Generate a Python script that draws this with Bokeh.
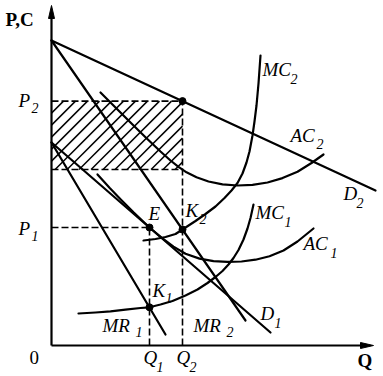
from bokeh.plotting import figure
from bokeh.models import Range1d
from bokeh.core.properties import value
from bokeh.embed import file_html
from bokeh.resources import INLINE

# ---------------- data (economic diagram, arbitrary units) ----------------
Q1 = 98.0
Q2 = 131.0
P1 = 118.0
P2 = 244.4
AC2_AT_Q2 = 176.0
K1_Y = 38.2
K2_Y = 116.0

# linear demand / marginal revenue curves (endpoints)
D2_x = [0, 324]
D2_y = [305, 155]
MR2_x = [0, 194]
MR2_y = [305, 25]
D1_x = [0, 219]
D1_y = [203, 13]
MR1_x = [0, 114]
MR1_y = [203, 11]

# cost curves
AC2_x = [49, 64, 79, 94, 109, 119, 127, 135, 145, 157, 171, 186, 201, 216, 231, 246, 260, 272]
AC2_y = [253, 238, 223, 208.2, 194, 185, 178.6, 173.2, 168.2, 164.0, 161.2, 160.0, 160.6, 163.0, 167.4, 173.8, 182.5, 191]

MC2_x = [92, 104, 114, 124, 131, 144, 154, 164, 173, 180, 186, 191, 195, 198, 201, 203, 205, 207, 209]
MC2_y = [105, 106.5, 108.5, 111.5, 116, 124.5, 131.5, 139, 147.5, 155, 162.5, 172, 183, 194, 210, 224, 240, 262, 290]

AC1_x = [46, 58, 70, 82, 98, 110, 122, 134, 148, 162, 176, 190, 204, 218, 232, 246, 262]
AC1_y = [171.1, 157.7, 145.3, 133.2, 118.0, 107.8, 98.9, 91.8, 86.9, 84.3, 83.6, 84.0, 85.8, 89.2, 95, 104, 117]

MC1_x = [27, 44, 59, 74, 89, 98, 109, 121, 134, 146, 156, 164, 171, 177, 182, 187, 192, 196, 199, 202]
MC1_y = [32, 33, 34.2, 35.8, 37.5, 38.2, 41, 44.5, 50, 56, 62.5, 68.5, 74.5, 81, 87.5, 95.5, 106, 117, 127.5, 141]

X_AXIS_END = 322
Y_AXIS_END = 340

# label texts
LBL_MAIN = ["P", "P", "Q", "Q", "MC", "AC", "D", "MC", "AC", "D", "MR", "MR", "E", "K", "K"]
LBL_SUB = ["2", "1", "1", "2", "2", "2", "2", "1", "1", "1", "2", "1", "", "2", "1"]
PLAIN_TEXT = ["P,C", "0", "Q"]

# ---------------- layout of labels (positions) ----------------
MAIN_POS = [(-33, 245), (-33, 117), (92, -12), (125, -12), (211, 276), (239, 210),
            (292, 152), (204, 133), (252, 102), (209, 32), (142, 20), (51, 20),
            (97, 132), (134, 135), (101, 55)]
SUB_POS = [(-20, 238), (-20, 110), (105, -21), (138, -21), (239, 267), (265, 202),
           (305, 143), (233, 124), (279, 93), (223, 23), (175, 14), (84, 14),
           (0, 0), (148, 127), (114, 48)]
PLAIN_POS = [(-46, 326), (-22, -12), (306, -15)]
PLAIN_STYLE = ["bold", "normal", "bold"]

p = figure(width=383, height=376, x_range=Range1d(-51, 332), y_range=Range1d(-31, 345),
           output_backend="svg", toolbar_location=None, min_border=0)
p.axis.visible = False
p.grid.visible = False
p.outline_line_color = None
p.background_fill_color = "white"
p.border_fill_color = "white"

BLK = "black"
LW = 2.2

# hatched profit area: 45-degree strokes clipped to the rectangle (style only)
HATCH_STEP = 12.0
left, right, bot, top = 0.0, Q2, AC2_AT_Q2, P2
H = top - bot
W = right - left
x0s, y0s, x1s, y1s = [], [], [], []
k = 1
while k * HATCH_STEP < W + H:
    c = k * HATCH_STEP
    t0 = max(0.0, H - c)
    t1 = min(H, W - c + H)
    if t1 > t0:
        x0s.append(left + c - H + t0); y0s.append(bot + t0)
        x1s.append(left + c - H + t1); y1s.append(bot + t1)
    k += 1
p.segment(x0=x0s, y0=y0s, x1=x1s, y1=y1s, line_width=1.5, color=BLK)

# dashed guide lines
DASH = "7 3"
p.line([0, Q2], [P2, P2], line_dash=DASH, line_width=1.6, color=BLK)
p.line([0, Q2], [AC2_AT_Q2, AC2_AT_Q2], line_dash=DASH, line_width=1.6, color=BLK)
p.line([Q2, Q2], [0, P2], line_dash=DASH, line_width=1.6, color=BLK)
p.line([0, Q1], [P1, P1], line_dash=DASH, line_width=1.6, color=BLK)
p.line([Q1, Q1], [0, P1], line_dash=DASH, line_width=1.6, color=BLK)

# curves
for xs, ys in [(D2_x, D2_y), (MR2_x, MR2_y), (D1_x, D1_y), (MR1_x, MR1_y),
               (AC2_x, AC2_y), (MC2_x, MC2_y), (AC1_x, AC1_y), (MC1_x, MC1_y)]:
    p.line(xs, ys, line_width=LW, color=BLK, line_join="round", line_cap="round")

# axes with arrows
p.line([0, 0], [0, Y_AXIS_END - 6], line_width=2.2, color=BLK)
p.line([0, X_AXIS_END - 6], [0, 0], line_width=2.2, color=BLK)
AH_L, AH_W = 13, 3.0
p.patch([-AH_W, 0, AH_W], [Y_AXIS_END - AH_L, Y_AXIS_END, Y_AXIS_END - AH_L], color=BLK)
p.patch([X_AXIS_END - AH_L, X_AXIS_END, X_AXIS_END - AH_L], [AH_W, 0, -AH_W], color=BLK)

# points
p.scatter([Q2, Q1, Q2, Q1], [P2, P1, K2_Y, K1_Y], size=7, color=BLK)

FONT = value("Liberation Serif")
p.text(x=[q[0] for q in MAIN_POS], y=[q[1] for q in MAIN_POS], text=LBL_MAIN,
       text_font=FONT, text_font_style="italic", text_font_size="19px",
       text_baseline="middle", text_align="left", text_color=BLK)
sub_idx = [i for i, s in enumerate(LBL_SUB) if s]
p.text(x=[SUB_POS[i][0] for i in sub_idx], y=[SUB_POS[i][1] for i in sub_idx],
       text=[LBL_SUB[i] for i in sub_idx],
       text_font=FONT, text_font_style="italic", text_font_size="14px",
       text_baseline="middle", text_align="left", text_color=BLK)
for (px_, py_), t, st in zip(PLAIN_POS, PLAIN_TEXT, PLAIN_STYLE):
    p.text(x=[px_], y=[py_], text=[t], text_font=FONT, text_font_style=st,
           text_font_size="19px", text_baseline="middle", text_align="left", text_color=BLK)

open("out.html", "w").write(file_html(p, INLINE))
